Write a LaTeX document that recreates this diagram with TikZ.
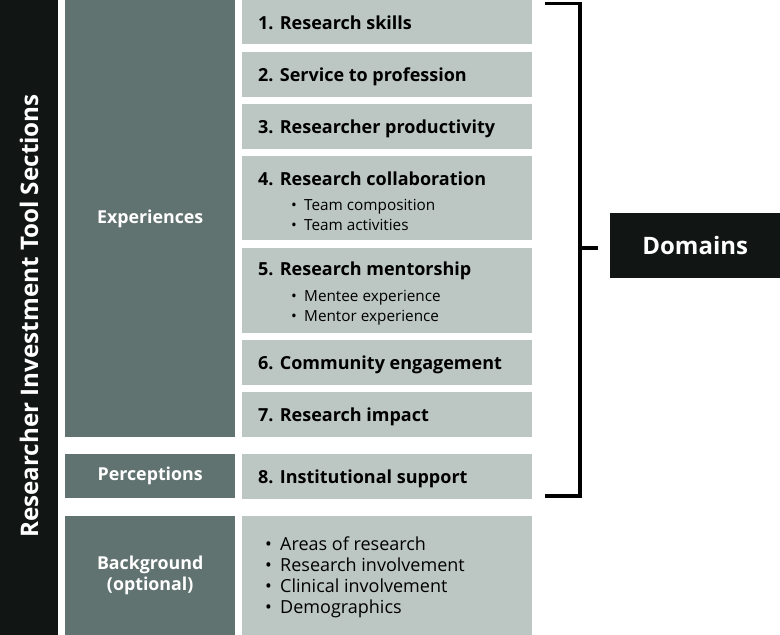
\documentclass[tikz,border=0pt]{standalone}
\usepackage{fontspec}
\IfFontExistsTF{Noto Sans Bold}{%
  \setmainfont{Noto Sans}[BoldFont={Noto Sans Bold}]}{%
  \IfFontExistsTF{Open Sans Bold}{%
    \setmainfont{Open Sans}[BoldFont={Open Sans Bold}]}{%
    \setmainfont{Noto Sans}[BoldFont={Noto Sans}, BoldFeatures={FakeBold=2.5}]}}
\definecolor{blk}{HTML}{111514}
\definecolor{dk}{HTML}{617370}
\definecolor{lt}{HTML}{BCC6C3}
\begin{document}
\begin{tikzpicture}[x=1pt,y=-1pt,
  dkbox/.style={fill=dk, draw=none, anchor=north west, inner sep=0, minimum width=170pt, text=white, font=\fontsize{17.8}{21}\selectfont\bfseries, align=center},
  ltbox/.style={fill=lt, draw=none, anchor=north west, inner sep=0, minimum width=290pt},
  ttl/.style={anchor=base west, inner sep=0, font=\fontsize{18}{21}\selectfont\bfseries, text=black},
  itm/.style={anchor=base west, inner sep=0, font=\fontsize{15.3}{18}\selectfont, text=black},
  bitm/.style={anchor=base west, inner sep=0, font=\fontsize{18}{21}\selectfont, text=black},
  brk/.style={line width=3.5pt, line join=miter, draw=black},
]
\useasboundingbox (0,0) rectangle (780,635);
% left bar
\node[fill=blk, anchor=north west, inner sep=0, minimum width=58pt, minimum height=635pt] (bar) at (0,0) {};
\node[rotate=90, text=white, inner sep=0, font=\fontsize{24.2}{28}\selectfont\bfseries] (bartext) at (29,316) {Researcher Investment Tool Sections};
% dark column
\node[dkbox, minimum height=437pt] (exp) at (65,0) {Experiences};
\node[dkbox, minimum height=44pt] (perc) at (65,454) {Perceptions};
\node[dkbox, minimum height=119pt] (back) at (65,516) {Background\\(optional)};
% light column
\node[ltbox, minimum height=44pt] (r1) at (242,0) {};
\node[ltbox, minimum height=45pt] (r2) at (242,52) {};
\node[ltbox, minimum height=45pt] (r3) at (242,104) {};
\node[ltbox, minimum height=84pt] (r4) at (242,156) {};
\node[ltbox, minimum height=85pt] (r5) at (242,248) {};
\node[ltbox, minimum height=45pt] (r6) at (242,340) {};
\node[ltbox, minimum height=45pt] (r7) at (242,392) {};
\node[ltbox, minimum height=45pt] (r8) at (242,454) {};
\node[ltbox, minimum height=119pt] (r9) at (242,516) {};
% titles
\node[ttl] (t1) at (258,29) {1. Research skills};
\node[ttl] (t2) at (258,81) {2. Service to profession};
\node[ttl] (t3) at (258,133) {3. Researcher productivity};
\node[ttl] (t4) at (258,185) {4. Research collaboration};
\node[itm] (i41) at (291,210) {\makebox[13pt][l]{•}Team composition};
\node[itm] (i42) at (291,230) {\makebox[13pt][l]{•}Team activities};
\node[ttl] (t5) at (258,275) {5. Research mentorship};
\node[itm] (i51) at (291,301) {\makebox[13pt][l]{•}Mentee experience};
\node[itm] (i52) at (291,321) {\makebox[13pt][l]{•}Mentor experience};
\node[ttl] (t6) at (258,369) {6. Community engagement};
\node[ttl] (t7) at (258,421) {7. Research impact};
\node[ttl] (t8) at (258,483) {8. Institutional support};
\node[bitm] (i91) at (265,550) {\makebox[15pt][l]{•}Areas of research};
\node[bitm] (i92) at (265,571) {\makebox[15pt][l]{•}Research involvement};
\node[bitm] (i93) at (265,592) {\makebox[15pt][l]{•}Clinical involvement};
\node[bitm] (i94) at (265,613) {\makebox[15pt][l]{•}Demographics};
% domains
\node[fill=blk, anchor=north west, inner sep=0, minimum width=170pt, minimum height=65pt, text=white, font=\fontsize{24}{28}\selectfont\bfseries] (dom) at (610,213) {Domains};
% bracket
\coordinate (bt) at (545,3.5);
\coordinate (btr) at (580,3.5);
\coordinate (bbr) at (580,496);
\coordinate (bb) at (545,496);
\coordinate (bm) at (580,248);
\coordinate (bmt) at (598,248);
\draw[brk] (bt) -- (btr) -- (bbr) -- (bb);
\draw[brk] (bm) -- (bmt);
\end{tikzpicture}
\end{document}
